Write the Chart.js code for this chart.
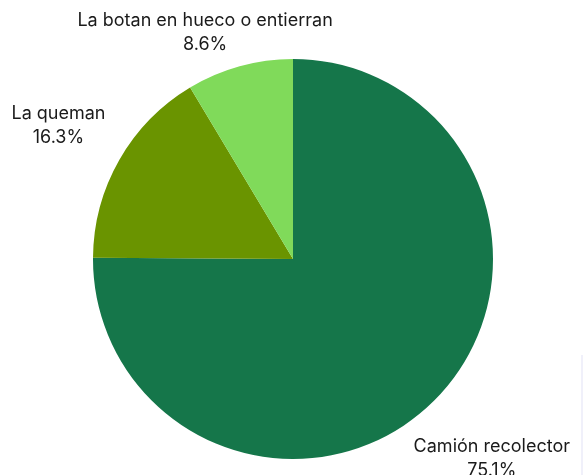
<!DOCTYPE html>
<html>
<head>
<meta charset="utf-8">
<script src="https://cdn.jsdelivr.net/npm/chart.js@4/dist/chart.umd.min.js"></script>
<style>
    html, body { margin: 0; padding: 0; background: #fff; overflow: hidden; }
    #wrap { position: relative; width: 584px; height: 475px; }
    #edge { position: absolute; left: 581px; top: 355px; width: 2px; height: 120px; background: #f0f0fa; }
</style>
</head>
<body>
<div id="wrap">
    <canvas id="myChart" width="584" height="475"></canvas>
    <div id="edge"></div>
</div>
<script>
var labels = ['Camión recolector', 'La queman', 'La botan en hueco o entierran'];
var values = [75.1, 16.3, 8.6];
var colors = ['#15764a', '#6a9400', '#80da5a'];

// draws the name and percent outside each slice
var outsideLabels = {
    id: 'outsideLabels',
    afterDatasetsDraw: function (chart, args, opts) {
        var ctx = chart.ctx;
        var meta = chart.getDatasetMeta(0);
        ctx.save();
        ctx.font = opts.font;
        ctx.fillStyle = opts.color;
        ctx.textAlign = 'center';
        ctx.textBaseline = 'middle';
        meta.data.forEach(function (arc, i) {
            var p = arc.getProps(['x', 'y', 'startAngle', 'endAngle', 'outerRadius'], true);
            var mid = (p.startAngle + p.endAngle) / 2 + opts.angleShift[i];
            var d = p.outerRadius + opts.distance[i];
            var cx = p.x + Math.cos(mid) * d;
            var cy = p.y + Math.sin(mid) * d;
            ctx.fillText(labels[i], cx, cy - opts.lineHeight / 2);
            ctx.fillText(values[i].toFixed(1) + '%', cx, cy + opts.lineHeight / 2);
        });
        ctx.restore();
    }
};

var chart = new Chart(document.getElementById('myChart').getContext('2d'), {
    type: 'pie',
    data: {
        labels: labels,
        datasets: [{
            data: values,
            backgroundColor: colors,
            borderWidth: 0
        }]
    },
    options: {
        responsive: false,
        animation: false,
        layout: { padding: { top: 59, bottom: 16, left: 93, right: 91 } },
        plugins: {
            legend: { display: false },
            tooltip: { enabled: false },
            outsideLabels: {
                font: '18px Inter, Lato, sans-serif',
                color: '#1a1a1a',
                lineHeight: 24,
                distance: [82, 70, 43],
                angleShift: [0, 0, -0.1]
            }
        }
    },
    plugins: [outsideLabels]
});
</script>
</body>
</html>
